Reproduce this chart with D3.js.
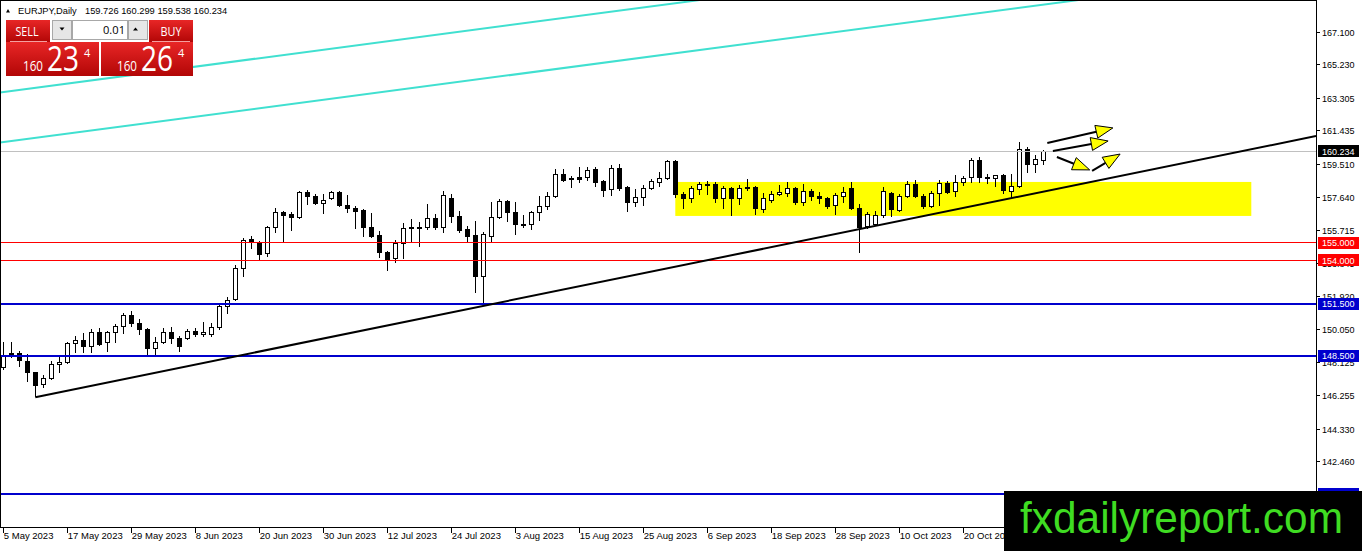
<!DOCTYPE html>
<html>
<head>
<meta charset="utf-8">
<script src="https://cdn.jsdelivr.net/npm/d3@7"></script>
<style>
  html, body { margin: 0; padding: 0; background: #fff; overflow: hidden; }
  svg { display: block; font-family: Tahoma, "Liberation Sans", Arial, sans-serif; }
</style>
</head>
<body>
<svg id="chart" width="1362" height="551"></svg>
<script>
// ---- data ----
const symbol = "EURJPY,Daily";

const opens = [
  147.84, 148.64, 148.64, 148.19, 147.55, 146.87, 147.21, 148.01, 148.13, 149.22,
  149.39, 149.05, 149.85, 149.27, 149.85, 150.19, 150.82, 150.36, 150.02, 148.93,
  149.27, 149.85, 149.50, 149.50, 149.91, 149.73, 149.73, 150.14, 151.34, 151.74,
  153.52, 155.18, 155.01, 154.38, 155.87, 156.73, 156.62, 156.45, 157.88, 157.65,
  157.25, 157.54, 157.88, 157.14, 156.96, 156.85, 155.87, 155.41, 154.44, 154.09,
  154.95, 155.87, 155.84, 155.87, 156.39, 155.87, 157.54, 156.51, 155.76, 155.41,
  153.06, 155.36, 156.45, 157.36, 156.73, 156.04, 156.04, 156.73, 157.08, 157.65,
  158.91, 158.68, 158.74, 158.74, 159.20, 158.51, 158.05, 159.26, 158.17, 157.31,
  157.59, 158.11, 158.46, 158.68, 159.66, 157.77, 157.54, 158.05, 158.34, 158.34,
  157.54, 158.11, 157.54, 158.17, 158.17, 156.91, 157.42, 157.77, 157.82, 158.11,
  157.31, 157.94, 157.65, 157.54, 157.14, 157.65, 158.11, 156.96, 155.93, 156.04,
  156.56, 157.82, 156.85, 157.65, 158.34, 157.65, 157.08, 157.82, 158.40, 157.94,
  158.46, 158.74, 159.72, 158.74, 158.68, 158.86, 157.94, 158.23, 160.35, 159.49,
  159.726
];
const highs = [
  149.27, 149.27, 148.76, 148.59, 147.60, 147.38, 148.19, 148.47, 149.27, 149.62,
  149.79, 150.02, 150.08, 149.91, 150.31, 150.94, 151.05, 150.59, 150.08, 149.56,
  150.08, 150.14, 149.62, 150.02, 150.08, 150.42, 150.36, 151.46, 151.86, 153.69,
  155.24, 155.36, 155.07, 155.93, 156.96, 156.79, 156.73, 157.94, 158.00, 157.77,
  157.77, 157.94, 157.94, 157.71, 157.08, 156.91, 156.68, 155.64, 154.50, 155.13,
  156.10, 156.33, 156.16, 157.19, 156.62, 157.94, 157.77, 156.79, 155.93, 156.22,
  155.59, 157.31, 157.48, 157.42, 157.31, 156.56, 156.79, 157.65, 157.88, 159.20,
  159.20, 158.80, 159.31, 159.31, 159.31, 158.57, 159.43, 159.49, 158.23, 158.05,
  158.28, 158.63, 159.03, 159.72, 159.72, 157.88, 158.23, 158.46, 158.51, 158.46,
  158.23, 158.17, 158.28, 158.63, 158.23, 157.82, 157.94, 158.28, 158.46, 158.17,
  158.34, 158.05, 157.88, 157.59, 157.82, 158.17, 158.46, 157.19, 156.73, 156.79,
  158.17, 157.88, 157.77, 158.51, 158.57, 157.77, 157.94, 158.57, 158.51, 158.86,
  158.80, 159.83, 159.89, 158.91, 158.88, 158.91, 158.91, 160.75, 160.46, 160.00,
  160.299
];
const lows = [
  147.73, 148.41, 147.90, 147.04, 146.18, 146.69, 147.15, 147.55, 148.07, 148.70,
  148.70, 148.70, 149.10, 148.76, 149.27, 149.79, 150.19, 149.73, 148.59, 148.59,
  149.25, 149.25, 148.76, 149.45, 149.62, 149.62, 149.62, 150.02, 150.94, 151.68,
  153.06, 154.67, 154.04, 154.21, 155.59, 155.07, 155.70, 156.39, 157.19, 157.19,
  156.68, 157.48, 157.08, 156.73, 155.82, 155.36, 155.30, 154.15, 153.41, 153.86,
  154.09, 155.07, 154.78, 155.76, 155.76, 155.59, 156.16, 155.59, 155.07, 152.14,
  151.40, 155.07, 156.39, 156.22, 155.47, 155.87, 155.76, 156.27, 156.91, 157.62,
  158.51, 158.17, 158.46, 158.57, 158.23, 157.65, 157.71, 158.00, 156.79, 157.08,
  157.14, 158.05, 158.23, 158.63, 157.59, 156.96, 157.31, 157.77, 157.77, 157.31,
  156.96, 156.56, 157.19, 158.00, 156.62, 156.73, 157.31, 157.71, 157.65, 157.19,
  157.14, 157.42, 157.25, 156.96, 156.62, 157.31, 156.91, 154.44, 155.85, 155.99,
  156.45, 156.51, 156.79, 157.59, 157.59, 156.96, 157.02, 157.14, 157.82, 157.65,
  158.28, 158.46, 158.46, 158.40, 158.23, 157.82, 157.59, 158.17, 159.03, 159.03,
  159.538
];
const closes = [
  148.53, 148.53, 148.24, 147.55, 146.81, 147.21, 148.01, 148.13, 149.22, 149.39,
  149.05, 149.85, 149.16, 149.85, 150.19, 150.82, 150.36, 150.02, 148.93, 149.27,
  149.85, 149.50, 149.05, 149.91, 149.73, 149.85, 150.14, 151.34, 151.68, 153.52,
  155.13, 155.07, 154.32, 155.87, 156.73, 156.56, 156.45, 157.88, 157.65, 157.25,
  157.42, 157.88, 157.14, 156.96, 156.79, 155.87, 155.36, 154.44, 154.04, 154.95,
  155.82, 155.84, 155.87, 156.39, 155.87, 157.71, 156.51, 155.70, 155.36, 153.06,
  155.47, 156.45, 157.36, 156.73, 156.04, 155.99, 156.73, 157.08, 157.65, 158.91,
  158.57, 158.65, 158.63, 159.14, 158.45, 158.00, 159.26, 158.11, 157.31, 157.59,
  158.11, 158.51, 158.68, 159.66, 157.77, 157.54, 158.11, 158.34, 158.31, 157.54,
  158.11, 157.54, 158.11, 158.14, 156.96, 157.54, 157.77, 157.88, 158.11, 157.31,
  157.94, 157.65, 157.54, 157.08, 157.71, 157.88, 156.96, 155.87, 156.62, 156.56,
  157.94, 156.91, 157.65, 158.34, 157.65, 157.08, 157.82, 158.40, 157.88, 158.46,
  158.68, 159.72, 158.74, 158.68, 158.86, 158.00, 158.23, 160.35, 159.49, 159.77,
  160.234
];

const dateBars = [0, 8, 16, 24, 32, 40, 48, 56, 64, 72, 80, 88, 96, 104, 112, 120];
const dateLabels = [
  "5 May 2023", "17 May 2023", "29 May 2023", "8 Jun 2023", "20 Jun 2023",
  "30 Jun 2023", "12 Jul 2023", "24 Jul 2023", "3 Aug 2023", "15 Aug 2023",
  "25 Aug 2023", "6 Sep 2023", "18 Sep 2023", "28 Sep 2023", "10 Oct 2023",
  "20 Oct 2023"
];
const priceTicks = [
  167.100, 165.230, 163.305, 161.435, 159.510, 157.640, 155.715,
  153.845, 151.920, 150.050, 148.125, 146.255, 144.330, 142.460
];

const bidPrice = 160.234;
const redLevels = [155.0, 154.0];
const blueLevels = [151.5, 148.5, 140.6];

// [bar index, price]
const trendPoints = [[4, 146.13], [127, 157.64]];
const channelUpper = [[0, 163.64], [80, 168.49]];
const channelLower = [[0, 160.77], [80, 165.62]];
const zoneBars = [84, 156];
const zonePrices = [156.53, 158.48];
const arrowPaths = [
  [[130.5, 160.71], [138.7, 161.58]],
  [[131.2, 160.26], [138.1, 160.83]],
  [[131.7, 159.91], [135.8, 159.17]],
  [[136.1, 159.11], [139.6, 160.08]]
];

const lotSize = "0.01";
const sellQuote = ["160", "23", "4"];
const buyQuote = ["160", "26", "4"];

// ---- layout ----
const W = 1316, H = 527;
const svg = d3.select("#chart");

const x = d3.scaleLinear().domain([0, 1]).range([3.3, 11.3]);
const y = d3.scaleLinear().domain([138.683, 168.919]).range([H, 0]);

const defs = svg.append("defs");
defs.append("clipPath").attr("id", "plotClip")
  .append("rect").attr("x", 0).attr("y", 0).attr("width", W).attr("height", H);
const grad = defs.append("linearGradient").attr("id", "redGrad")
  .attr("x1", 0).attr("y1", 0).attr("x2", 0).attr("y2", 1);
grad.append("stop").attr("offset", "0%").attr("stop-color", "#e82626");
grad.append("stop").attr("offset", "100%").attr("stop-color", "#b20606");

svg.append("rect").attr("width", 1362).attr("height", 551).attr("fill", "#fff");

const plot = svg.append("g").attr("clip-path", "url(#plotClip)");

// yellow zone (background object)
plot.append("rect")
  .attr("x", x(zoneBars[0]))
  .attr("y", y(zonePrices[1]))
  .attr("width", x(zoneBars[1]) - x(zoneBars[0]))
  .attr("height", y(zonePrices[0]) - y(zonePrices[1]))
  .attr("fill", "#ffff00");

// extend a line given by two [bar, price] points between two bar positions
function extendLine(pts, b0, b1) {
  const [[ia, pa], [ib, pb]] = pts;
  const k = (pb - pa) / (ib - ia);
  return [[b0, pa + k * (b0 - ia)], [b1, pa + k * (b1 - ia)]];
}
const leftBar = x.invert(0), rightBar = x.invert(W);
const line = d3.line().x(d => x(d[0])).y(d => y(d[1]));

// candles
const bars = d3.range(opens.length).map(i => ({
  i, o: opens[i], h: highs[i], l: lows[i], c: closes[i]
}));
const candle = plot.append("g").selectAll("g").data(bars).join("g");
candle.append("line")
  .attr("x1", d => Math.round(x(d.i)) + 0.5)
  .attr("x2", d => Math.round(x(d.i)) + 0.5)
  .attr("y1", d => Math.round(y(d.h)))
  .attr("y2", d => Math.round(y(d.l)) + 1)
  .attr("stroke", "#000").attr("stroke-width", 1);
candle.filter(d => d.c >= d.o).append("rect")
  .attr("x", d => Math.round(x(d.i)) - 1.5)
  .attr("y", d => Math.round(y(d.c)) + 0.5)
  .attr("width", 4)
  .attr("height", d => Math.max(Math.round(y(d.o)) - Math.round(y(d.c)), 1))
  .attr("fill", "#fff").attr("stroke", "#000").attr("stroke-width", 1);
candle.filter(d => d.c < d.o).append("rect")
  .attr("x", d => Math.round(x(d.i)) - 2)
  .attr("y", d => Math.round(y(d.o)))
  .attr("width", 5)
  .attr("height", d => Math.max(Math.round(y(d.c)) - Math.round(y(d.o)) + 1, 1))
  .attr("fill", "#000");

// channel lines
[channelUpper, channelLower].forEach(pts => {
  plot.append("path")
    .attr("d", line(extendLine(pts, leftBar, rightBar)))
    .attr("fill", "none").attr("stroke", "#40e0d0").attr("stroke-width", 2);
});

// horizontal levels
plot.append("line")
  .attr("x1", 0).attr("x2", W)
  .attr("y1", Math.round(y(bidPrice)) + 0.5).attr("y2", Math.round(y(bidPrice)) + 0.5)
  .attr("stroke", "#c0c0c0").attr("stroke-width", 1);
plot.selectAll(".red-level").data(redLevels).join("line")
  .attr("class", "red-level")
  .attr("x1", 0).attr("x2", W)
  .attr("y1", d => Math.floor(y(d)) + 0.5).attr("y2", d => Math.floor(y(d)) + 0.5)
  .attr("stroke", "#ff0000").attr("stroke-width", 1);
plot.selectAll(".blue-level").data(blueLevels).join("line")
  .attr("class", "blue-level")
  .attr("x1", 0).attr("x2", W)
  .attr("y1", d => Math.round(y(d))).attr("y2", d => Math.round(y(d)))
  .attr("stroke", "#0000cd").attr("stroke-width", 2);

// trendline (ray to the right)
plot.append("path")
  .attr("d", line(extendLine(trendPoints, trendPoints[0][0], rightBar)))
  .attr("fill", "none").attr("stroke", "#000").attr("stroke-width", 2);

// arrows
arrowPaths.forEach(([a, b]) => {
  const x0 = x(a[0]), y0 = y(a[1]), x1 = x(b[0]), y1 = y(b[1]);
  const len = Math.hypot(x1 - x0, y1 - y0);
  const ux = (x1 - x0) / len, uy = (y1 - y0) / len;
  const headL = 17, headW = 6.5;
  const bx = x1 - ux * headL, by = y1 - uy * headL;
  plot.append("line")
    .attr("x1", x0).attr("y1", y0).attr("x2", bx).attr("y2", by)
    .attr("stroke", "#000").attr("stroke-width", 2);
  plot.append("path")
    .attr("d", `M${x1},${y1}L${bx - uy * headW},${by + ux * headW}L${bx + uy * headW},${by - ux * headW}Z`)
    .attr("fill", "#ffff00").attr("stroke", "#000").attr("stroke-width", 1);
});

// frame
svg.append("rect")
  .attr("x", 0.5).attr("y", 0.5).attr("width", W).attr("height", H)
  .attr("fill", "none").attr("stroke", "#000").attr("stroke-width", 1);

// price axis
const yAxis = svg.append("g");
yAxis.selectAll("line").data(priceTicks).join("line")
  .attr("x1", W).attr("x2", W + 4)
  .attr("y1", d => Math.round(y(d)) + 0.5).attr("y2", d => Math.round(y(d)) + 0.5)
  .attr("stroke", "#000");
yAxis.selectAll("text").data(priceTicks).join("text")
  .attr("x", W + 6).attr("y", d => y(d) + 1)
  .attr("dominant-baseline", "central")
  .attr("font-size", 9).attr("fill", "#000")
  .text(d => d.toFixed(3));

// time axis
const xAxis = svg.append("g");
xAxis.selectAll("line").data(dateBars).join("line")
  .attr("x1", d => Math.round(x(d)) + 0.5).attr("x2", d => Math.round(x(d)) + 0.5)
  .attr("y1", H).attr("y2", H + 6)
  .attr("stroke", "#000");
xAxis.selectAll("text").data(dateBars).join("text")
  .attr("x", d => x(d) + 0.5).attr("y", H + 11.5)
  .attr("font-size", 9.5).attr("fill", "#000")
  .text((d, i) => dateLabels[i]);

// level price tags
const tags = [{ p: bidPrice, fill: "#000" }]
  .concat(redLevels.map(p => ({ p, fill: "#ff0000" })))
  .concat(blueLevels.map(p => ({ p, fill: "#0000cd" })));
const tag = svg.append("g").selectAll("g").data(tags).join("g");
tag.append("rect")
  .attr("x", W + 2).attr("y", d => Math.round(y(d.p)) - 6)
  .attr("width", 41).attr("height", 12)
  .attr("fill", d => d.fill);
tag.append("text")
  .attr("x", W + 6).attr("y", d => y(d.p) + 0.5)
  .attr("dominant-baseline", "central")
  .attr("font-size", 9).attr("fill", "#fff")
  .text(d => d.p.toFixed(3));

// header
const last = opens.length - 1;
svg.append("path").attr("d", "M6,12.5L8,9L10,12.5Z").attr("fill", "#000");
const head = svg.append("text").attr("y", 13.5).attr("font-size", 9.3).attr("fill", "#000");
head.append("tspan").attr("x", 18).text(symbol);
head.append("tspan").attr("x", 85)
  .text([opens[last], highs[last], lows[last], closes[last]].map(v => v.toFixed(3)).join(" "));

// one-click trading panel
const panel = svg.append("g");
panel.append("rect").attr("x", 6).attr("y", 20).attr("width", 44).attr("height", 22).attr("fill", "url(#redGrad)");
panel.append("rect").attr("x", 149).attr("y", 20).attr("width", 44).attr("height", 22).attr("fill", "url(#redGrad)");
panel.append("rect").attr("x", 6).attr("y", 42).attr("width", 93).attr("height", 34).attr("fill", "url(#redGrad)");
panel.append("rect").attr("x", 101).attr("y", 42).attr("width", 92).attr("height", 34).attr("fill", "url(#redGrad)");
panel.append("line").attr("x1", 10).attr("x2", 47).attr("y1", 41.5).attr("y2", 41.5).attr("stroke", "#f4a0a0");
panel.append("line").attr("x1", 152).attr("x2", 190).attr("y1", 41.5).attr("y2", 41.5).attr("stroke", "#f4a0a0");

panel.append("rect").attr("x", 52.5).attr("y", 20.5).attr("width", 19).attr("height", 19)
  .attr("fill", "#e6e6e6").attr("stroke", "#a8a8a8");
panel.append("rect").attr("x", 72.5).attr("y", 20.5).attr("width", 55).attr("height", 19)
  .attr("fill", "#fff").attr("stroke", "#a8a8a8");
panel.append("rect").attr("x", 128.5).attr("y", 20.5).attr("width", 19).attr("height", 19)
  .attr("fill", "#e6e6e6").attr("stroke", "#a8a8a8");
panel.append("path").attr("d", "M59.5,27.5L64.5,27.5L62,30.5Z").attr("fill", "#000");
panel.append("path").attr("d", "M133,30.5L138,30.5L135.5,27.5Z").attr("fill", "#000");

const txt = (s, xx, yy, size, fill, len, anchor) => {
  const t = panel.append("text").attr("x", xx).attr("y", yy)
    .attr("font-size", size).attr("fill", fill)
    .attr("font-family", "'Open Sans', 'Liberation Sans', sans-serif")
    .attr("text-anchor", anchor || "start").text(s);
  if (len) t.attr("textLength", len).attr("lengthAdjust", "spacingAndGlyphs");
  return t;
};
txt("SELL", 27, 35.5, 12, "#fff", 23, "middle");
txt("BUY", 171, 35.5, 12, "#fff", 21, "middle");
txt(lotSize, 125, 34, 11.5, "#000", 22, "end");
txt(sellQuote[0], 23, 71, 15, "#fff", 20);
txt(sellQuote[1], 47, 71, 34, "#fff", 32);
txt(sellQuote[2], 84, 57, 11, "#fff");
txt(buyQuote[0], 117, 71, 15, "#fff", 20);
txt(buyQuote[1], 141, 71, 34, "#fff", 32);
txt(buyQuote[2], 178, 57, 11, "#fff");

// watermark
svg.append("rect").attr("x", 1004).attr("y", 491).attr("width", 358).attr("height", 60).attr("fill", "#000");
svg.append("text").attr("x", 1020).attr("y", 533)
  .attr("font-family", "'Liberation Sans', Arial, sans-serif")
  .attr("font-size", 44).attr("fill", "#3fdc22")
  .attr("textLength", 323).attr("lengthAdjust", "spacingAndGlyphs")
  .text("fxdailyreport.com");
</script>
</body>
</html>
